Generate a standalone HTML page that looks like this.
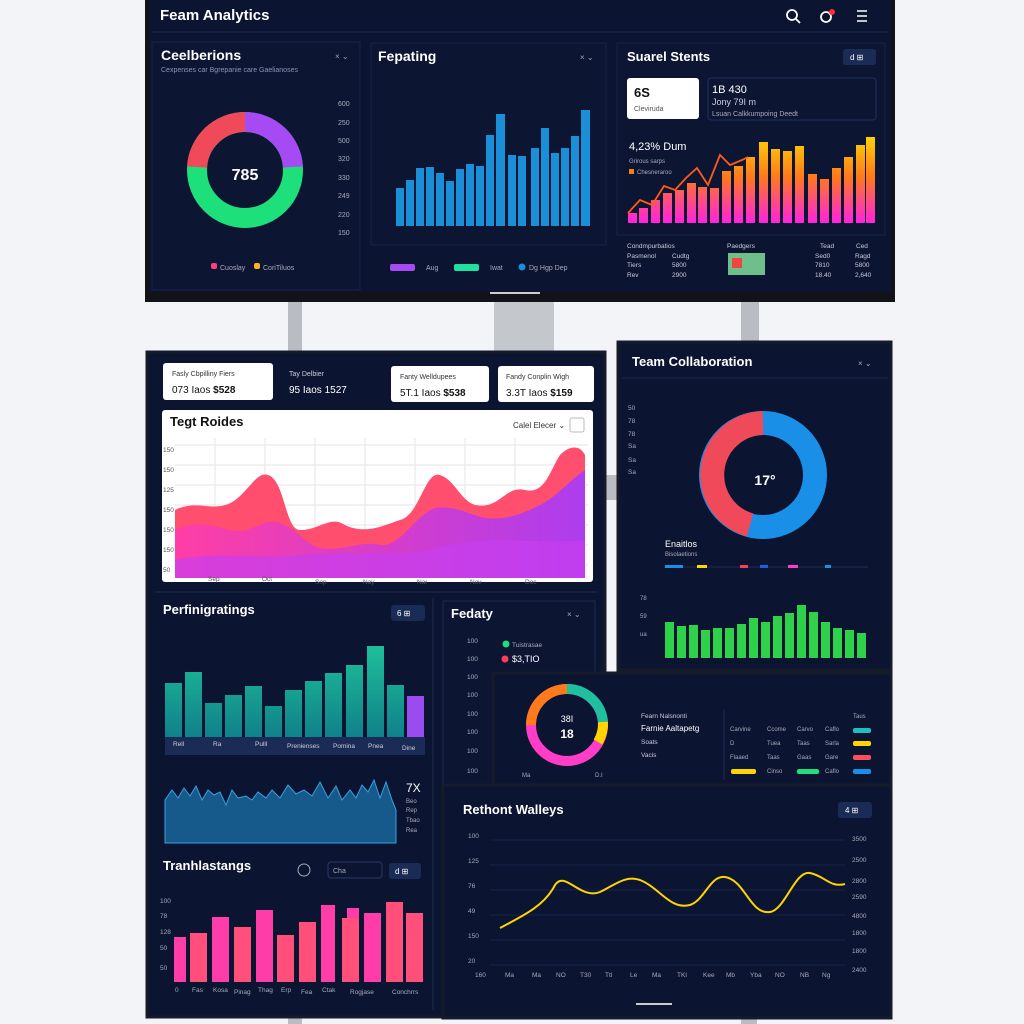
<!DOCTYPE html>
<html><head><meta charset="utf-8"><style>
html,body{margin:0;padding:0;background:#f3f4f7;}
svg{display:block;font-family:"Liberation Sans",sans-serif;}
</style></head><body>
<svg width="1024" height="1024" viewBox="0 0 1024 1024" xmlns="http://www.w3.org/2000/svg">
<defs>
<linearGradient id="og" x1="0" y1="130" x2="0" y2="223" gradientUnits="userSpaceOnUse"><stop offset="0" stop-color="#ffe000"/><stop offset="0.5" stop-color="#ff7a1a"/><stop offset="1" stop-color="#ff22e0"/></linearGradient>
<linearGradient id="tg" x1="0" y1="640" x2="0" y2="740" gradientUnits="userSpaceOnUse"><stop offset="0" stop-color="#1fc39a"/><stop offset="1" stop-color="#0f7f8a"/></linearGradient>
<linearGradient id="pg" x1="0" y1="0" x2="1" y2="0"><stop offset="0" stop-color="#ff3da8"/><stop offset="1" stop-color="#a93cf5"/></linearGradient>
<linearGradient id="rg" x1="0" y1="0" x2="1" y2="0"><stop offset="0" stop-color="#ff5a5a"/><stop offset="1" stop-color="#ff4f8a"/></linearGradient>
</defs>
<rect width="1024" height="1024" fill="#f3f4f7"/>
<!-- poles -->
<rect x="288" y="300" width="14" height="60" fill="#b9bcc2"/>
<rect x="494" y="298" width="60" height="58" fill="#c4c7cc"/>
<rect x="741" y="300" width="18" height="45" fill="#b9bcc2"/>
<rect x="603" y="475" width="18" height="25" fill="#b9bcc2"/>
<rect x="288" y="1012" width="14" height="12" fill="#b9bcc2"/>
<rect x="741" y="1015" width="16" height="9" fill="#b9bcc2"/>

<!-- TOP MONITOR -->
<rect x="145" y="0" width="750" height="302" fill="#111318"/>
<rect x="149" y="0" width="742" height="292" fill="#0b1430"/>
<text x="160" y="20" fill="#fff" font-size="15" font-weight="bold">Feam Analytics</text>
<circle cx="792" cy="15" r="5" fill="none" stroke="#fff" stroke-width="1.8"/><line x1="796" y1="19" x2="800" y2="23" stroke="#fff" stroke-width="1.8"/>
<circle cx="826" cy="17" r="5" fill="none" stroke="#fff" stroke-width="1.8"/><circle cx="832" cy="12" r="3" fill="#ff2a3a"/>
<path d="M857 11h10M857 16h10M857 21h10" stroke="#fff" stroke-width="1.6"/>
<line x1="152" y1="32" x2="888" y2="32" stroke="#1c2a55"/>
<rect x="152" y="42" width="208" height="248" fill="#0c1633" stroke="#17244a"/>
<text x="161" y="60" fill="#fff" font-size="14" font-weight="bold">Ceelberions</text>
<text x="161" y="72" fill="#8a94b5" font-size="7">Cexpenses car Bgrepanie care Gaelianoses</text>
<text x="335" y="59" fill="#9aa" font-size="8">× ⌄</text>
<circle cx="245" cy="170" r="48" fill="none" stroke="#1ee07a" stroke-width="20"/>
<path d="M245 122 A48 48 0 0 1 293 167" fill="none" stroke="#a64bf4" stroke-width="20"/>
<path d="M197 167 A48 48 0 0 1 245 122" fill="none" stroke="#f04a5a" stroke-width="20"/>
<text x="245" y="180" fill="#fff" font-size="16" font-weight="bold" text-anchor="middle">785</text>
<g fill="#aab" font-size="7"><text x="338" y="106">600</text><text x="338" y="125">250</text><text x="338" y="143">500</text><text x="338" y="161">320</text><text x="338" y="180">330</text><text x="338" y="198">249</text><text x="338" y="217">220</text><text x="338" y="235">150</text></g>
<rect x="211" y="263" width="6" height="6" rx="2" fill="#ff3d7f"/><text x="220" y="270" fill="#aab" font-size="7">Cuoslay</text>
<rect x="254" y="263" width="6" height="6" rx="2" fill="#ffb020"/><text x="263" y="270" fill="#aab" font-size="7">CoriTiluos</text>

<rect x="371" y="43" width="235" height="202" fill="#0c1633" stroke="#17244a"/>
<text x="378" y="61" fill="#fff" font-size="14" font-weight="bold">Fepating</text>
<text x="580" y="60" fill="#9aa" font-size="8">× ⌄</text>
<g fill="#1a8fd8">
<rect x="396" y="188" width="8" height="38"/><rect x="406" y="180" width="8" height="46"/><rect x="416" y="168" width="8" height="58"/><rect x="426" y="167" width="8" height="59"/><rect x="436" y="173" width="8" height="53"/><rect x="446" y="181" width="8" height="45"/><rect x="456" y="169" width="8" height="57"/><rect x="466" y="164" width="8" height="62"/><rect x="476" y="166" width="8" height="60"/><rect x="486" y="135" width="8" height="91"/><rect x="496" y="114" width="9" height="112"/><rect x="508" y="155" width="8" height="71"/><rect x="518" y="156" width="8" height="70"/><rect x="531" y="148" width="8" height="78"/><rect x="541" y="128" width="8" height="98"/><rect x="551" y="153" width="8" height="73"/><rect x="561" y="148" width="8" height="78"/><rect x="571" y="136" width="8" height="90"/><rect x="581" y="110" width="9" height="116"/></g>
<rect x="390" y="264" width="25" height="7" rx="2" fill="#a64bf4"/><text x="426" y="270" fill="#aab" font-size="7">Aug</text>
<rect x="454" y="264" width="25" height="7" rx="2" fill="#1ee0a0"/><text x="490" y="270" fill="#aab" font-size="7">Iwat</text>
<circle cx="522" cy="267" r="3.5" fill="#1a8fd8"/><text x="529" y="270" fill="#aab" font-size="7">Dg   Hgp   Dep</text>

<rect x="617" y="43" width="268" height="192" fill="#0c1633" stroke="#17244a"/>
<text x="627" y="61" fill="#fff" font-size="13" font-weight="bold">Suarel Stents</text>
<rect x="843" y="49" width="33" height="16" rx="3" fill="#1a2c55"/><text x="850" y="60" fill="#fff" font-size="8">d  ⊞</text>
<rect x="627" y="78" width="72" height="41" rx="3" fill="#fff"/><text x="634" y="97" font-size="13" font-weight="bold" fill="#111">6S</text><text x="634" y="111" font-size="7" fill="#555">Cleviruda</text>
<rect x="708" y="78" width="168" height="42" rx="3" fill="none" stroke="#1f2e58"/><text x="712" y="93" fill="#fff" font-size="11">1B 430</text><text x="712" y="105" fill="#ccd" font-size="9">Jony 79I m</text><text x="712" y="116" fill="#aab" font-size="7">Lsuan Calkkumpoing Deedt</text>
<text x="629" y="150" fill="#fff" font-size="11">4,23% Dum</text>
<text x="629" y="163" fill="#aab" font-size="6">Grirous sarps</text>
<rect x="629" y="169" width="5" height="5" fill="#ff7a1a"/><text x="637" y="174" fill="#aab" font-size="6">Chesneraroo</text>
<g fill="url(#og)">
<rect x="628" y="213" width="9" height="10"/><rect x="639" y="208" width="9" height="15"/><rect x="651" y="200" width="9" height="23"/><rect x="663" y="193" width="9" height="30"/><rect x="675" y="190" width="9" height="33"/><rect x="687" y="183" width="9" height="40"/><rect x="698" y="187" width="9" height="36"/><rect x="710" y="188" width="9" height="35"/><rect x="722" y="171" width="9" height="52"/><rect x="734" y="166" width="9" height="57"/><rect x="746" y="157" width="9" height="66"/><rect x="759" y="142" width="9" height="81"/><rect x="771" y="149" width="9" height="74"/><rect x="783" y="151" width="9" height="72"/><rect x="795" y="146" width="9" height="77"/><rect x="808" y="174" width="9" height="49"/><rect x="820" y="179" width="9" height="44"/><rect x="832" y="168" width="9" height="55"/><rect x="844" y="157" width="9" height="66"/><rect x="856" y="145" width="9" height="78"/><rect x="866" y="137" width="9" height="86"/></g>
<polyline points="628,213 640,200 652,205 664,186 675,190 686,178 697,168 708,185 720,155 730,165 742,160 748,157" fill="none" stroke="#ff5a1a" stroke-width="1.8"/>
<g fill="#ccd" font-size="6.5"><text x="627" y="248">Condmpurbatios</text><text x="727" y="248">Paedgers</text><text x="820" y="248">Tead</text><text x="856" y="248">Ced</text>
<text x="627" y="258">Pasmenol</text><text x="672" y="258">Cudtg</text><text x="815" y="258">Sed0</text><text x="855" y="258">Ragd</text>
<text x="627" y="267">Tiers</text><text x="672" y="267">5800</text><text x="815" y="267">7810</text><text x="855" y="267">5800</text>
<text x="627" y="277">Rev</text><text x="672" y="277">2900</text><text x="815" y="277">18.40</text><text x="855" y="277">2,640</text></g>
<rect x="728" y="253" width="37" height="22" fill="#6fbf8a"/><rect x="732" y="258" width="10" height="10" fill="#e44"/>
<rect x="490" y="292" width="50" height="2" fill="#ccc"/>

<!-- LEFT BIG PANEL -->
<rect x="147" y="352" width="458" height="665" fill="#0b1430" stroke="#151b28" stroke-width="3"/>
<rect x="163" y="363" width="110" height="37" rx="3" fill="#fff"/><text x="172" y="376" font-size="7" fill="#333">Fasly Cbpilliny Fiers</text><text x="172" y="393" font-size="10" fill="#111">073 Iaos    <tspan font-weight="bold">$528</tspan></text>
<text x="289" y="376" font-size="7" fill="#ccd">Tay Delbier</text><text x="289" y="393" font-size="10" fill="#fff">95 Iaos      1527</text>
<rect x="391" y="366" width="98" height="36" rx="3" fill="#fff"/><text x="400" y="379" font-size="7" fill="#333">Fanty Welldupees</text><text x="400" y="396" font-size="10" fill="#111">5T.1 Iaos  <tspan font-weight="bold">$538</tspan></text>
<rect x="498" y="366" width="96" height="36" rx="3" fill="#fff"/><text x="506" y="379" font-size="7" fill="#333">Fandy Conplin Wigh</text><text x="506" y="396" font-size="10" fill="#111">3.3T Iaos  <tspan font-weight="bold">$159</tspan></text>
<rect x="162" y="410" width="431" height="172" rx="3" fill="#fff"/>
<text x="170" y="426" font-size="13" font-weight="bold" fill="#111">Tegt Roides</text>
<text x="513" y="428" font-size="8" fill="#333">Calel Elecer  ⌄</text><rect x="570" y="418" width="14" height="14" rx="2" fill="none" stroke="#bbb"/>
<g stroke="#e6e6ea"><line x1="175" y1="445" x2="588" y2="445"/><line x1="175" y1="465" x2="588" y2="465"/><line x1="175" y1="485" x2="588" y2="485"/><line x1="175" y1="505" x2="588" y2="505"/><line x1="175" y1="525" x2="588" y2="525"/><line x1="175" y1="545" x2="588" y2="545"/><line x1="175" y1="565" x2="588" y2="565"/>
<line x1="215" y1="438" x2="215" y2="575"/><line x1="265" y1="438" x2="265" y2="575"/><line x1="315" y1="438" x2="315" y2="575"/><line x1="365" y1="438" x2="365" y2="575"/><line x1="415" y1="438" x2="415" y2="575"/><line x1="465" y1="438" x2="465" y2="575"/><line x1="515" y1="438" x2="515" y2="575"/></g>
<g fill="#555" font-size="6.5"><text x="163" y="452">150</text><text x="163" y="472">150</text><text x="163" y="492">125</text><text x="163" y="512">150</text><text x="163" y="532">150</text><text x="163" y="552">150</text><text x="163" y="572">50</text></g>
<path d="M175 510 C195 500 210 510 225 505 C245 500 255 470 268 475 C285 480 285 530 300 530 C320 530 330 515 345 525 C365 535 385 525 400 520 C420 515 425 470 440 475 C455 480 460 500 475 505 C500 510 505 485 525 490 C545 495 550 470 560 455 C570 445 580 445 585 455 L585 578 L175 578Z" fill="#ff4e6e"/>
<path d="M175 530 C195 520 210 525 230 530 C250 535 260 520 275 522 C295 525 305 545 320 548 C345 552 360 540 380 545 C400 548 415 515 435 508 C455 505 470 515 485 518 C505 520 520 515 540 505 C555 498 570 480 585 470 L585 578 L175 578Z" fill="url(#pg)" opacity="0.95"/>
<path d="M175 560 C220 550 260 560 300 555 C360 550 400 560 450 545 C500 535 540 545 585 540 L585 578 L175 578Z" fill="#c73ff0" opacity="0.7"/>
<g fill="#555" font-size="6.5"><text x="208" y="581">Sep</text><text x="262" y="581">Oct</text><text x="315" y="584">Sop</text><text x="363" y="584">Nay</text><text x="417" y="584">Nar</text><text x="470" y="584">Nov</text><text x="525" y="584">Dec</text></g>

<line x1="155" y1="592" x2="597" y2="592" stroke="#1c2a55"/>
<text x="163" y="614" fill="#fff" font-size="13" font-weight="bold">Perfinigratings</text>
<rect x="391" y="605" width="34" height="16" rx="3" fill="#1a2c55"/><text x="397" y="616" fill="#fff" font-size="8">6  ⊞</text>
<line x1="433" y1="598" x2="433" y2="1010" stroke="#1c2a55"/>
<g fill="url(#tg)">
<rect x="165" y="683" width="17" height="54"/><rect x="185" y="672" width="17" height="65"/><rect x="205" y="703" width="17" height="34"/><rect x="225" y="695" width="17" height="42"/><rect x="245" y="686" width="17" height="51"/><rect x="265" y="706" width="17" height="31"/><rect x="285" y="690" width="17" height="47"/><rect x="305" y="681" width="17" height="56"/><rect x="325" y="673" width="17" height="64"/><rect x="346" y="665" width="17" height="72"/><rect x="367" y="646" width="17" height="91"/><rect x="387" y="685" width="17" height="52"/></g>
<rect x="407" y="696" width="17" height="41" fill="#9a4cf0"/>
<rect x="165" y="737" width="260" height="18" fill="#1a2c55"/>
<g fill="#ccd" font-size="6.5"><text x="173" y="746">Rell</text><text x="213" y="746">Ra</text><text x="255" y="746">Pulll</text><text x="287" y="748">Prenienses</text><text x="333" y="748">Pomina</text><text x="368" y="748">Pnea</text><text x="402" y="750">Dine</text></g>
<path d="M165 800 L172 790 L178 798 L184 788 L190 796 L196 786 L202 800 L208 790 L214 795 L220 792 L226 805 L232 790 L238 798 L246 796 L252 800 L258 792 L266 798 L272 790 L280 798 L288 785 L296 794 L304 790 L312 796 L320 782 L328 798 L336 786 L342 800 L350 790 L356 798 L362 785 L368 792 L374 780 L380 798 L386 782 L392 800 L396 810 L396 843 L165 843Z" fill="#155a8a" stroke="#3aa0e0" stroke-width="1"/>
<text x="406" y="792" fill="#fff" font-size="12">7X</text>
<g fill="#aab" font-size="6"><text x="406" y="803">Beo</text><text x="406" y="812">Rep</text><text x="406" y="822">Tbao</text><text x="406" y="832">Rea</text></g>

<text x="163" y="870" fill="#fff" font-size="13" font-weight="bold">Tranhlastangs</text>
<circle cx="304" cy="870" r="6" fill="none" stroke="#aab"/><rect x="328" y="862" width="54" height="16" rx="3" fill="none" stroke="#2a3a66"/><text x="333" y="873" fill="#aab" font-size="7">Cha</text>
<rect x="389" y="863" width="32" height="16" rx="3" fill="#1a2c55"/><text x="395" y="874" fill="#fff" font-size="8">d  ⊞</text>
<g fill="#aab" font-size="6.5"><text x="160" y="903">100</text><text x="160" y="918">78</text><text x="160" y="934">128</text><text x="160" y="950">50</text><text x="160" y="970">50</text></g>
<g>
<rect x="174" y="937" width="12" height="45" fill="#ff3da8"/><rect x="190" y="933" width="17" height="49" fill="#ff4f7a"/><rect x="212" y="917" width="17" height="65" fill="#ff3da8"/><rect x="234" y="927" width="17" height="55" fill="#ff4f7a"/><rect x="256" y="910" width="17" height="72" fill="#ff3da8"/><rect x="277" y="935" width="17" height="47" fill="#ff4f7a"/><rect x="299" y="922" width="17" height="60" fill="#ff4f7a"/><rect x="321" y="905" width="14" height="77" fill="#ff3da8"/><rect x="342" y="918" width="17" height="64" fill="#ff4f7a"/><rect x="347" y="908" width="12" height="10" fill="#ff3da8"/><rect x="364" y="913" width="17" height="69" fill="#ff3da8"/><rect x="386" y="902" width="17" height="80" fill="#ff4f7a"/><rect x="406" y="913" width="17" height="69" fill="#ff4f7a"/></g>
<g fill="#aab" font-size="6.5"><text x="175" y="992">0</text><text x="192" y="992">Fas</text><text x="213" y="992">Kosa</text><text x="234" y="994">Pinag</text><text x="258" y="992">Thag</text><text x="281" y="992">Erp</text><text x="301" y="994">Fea</text><text x="322" y="992">Ctak</text><text x="350" y="994">Rogjase</text><text x="392" y="994">Conchrrs</text></g>

<rect x="443" y="601" width="152" height="184" fill="#0c1633" stroke="#1c2a55"/>
<text x="451" y="618" fill="#fff" font-size="13" font-weight="bold">Fedaty</text><text x="567" y="617" fill="#aab" font-size="8">× ⌄</text>
<circle cx="506" cy="644" r="3.5" fill="#1ee07a"/><text x="512" y="647" fill="#aab" font-size="6.5">Tuistrasae</text>
<circle cx="505" cy="659" r="3.5" fill="#ff3d5a"/><text x="512" y="662" fill="#fff" font-size="9">$3,TIO</text>
<g fill="#aab" font-size="6.5"><text x="467" y="643">100</text><text x="467" y="661">100</text><text x="467" y="679">100</text><text x="467" y="697">100</text><text x="467" y="716">100</text><text x="467" y="734">100</text><text x="467" y="753">100</text><text x="467" y="773">100</text></g>

<!-- RIGHT PANEL -->
<rect x="618" y="342" width="273" height="328" fill="#0b1430" stroke="#151b28" stroke-width="3"/>
<text x="632" y="366" fill="#fff" font-size="13" font-weight="bold">Team Collaboration</text><text x="858" y="366" fill="#aab" font-size="8">× ⌄</text>
<line x1="622" y1="378" x2="888" y2="378" stroke="#1c2a55"/>
<g fill="#aab" font-size="6.5"><text x="628" y="410">50</text><text x="628" y="423">78</text><text x="628" y="436">78</text><text x="628" y="448">Sa</text><text x="628" y="462">Sa</text><text x="628" y="474">Sa</text></g>
<circle cx="763" cy="475" r="52" fill="none" stroke="#1a8fe8" stroke-width="24"/>
<path d="M763 423 A52 52 0 0 0 750 525" fill="none" stroke="#f04a5a" stroke-width="24"/>
<text x="765" y="485" fill="#fff" font-size="14" font-weight="bold" text-anchor="middle">17°</text>
<text x="665" y="547" fill="#fff" font-size="9">Enaitlos</text><text x="665" y="556" fill="#aab" font-size="6">Bisolaetions</text>
<line x1="664" y1="567" x2="868" y2="567" stroke="#1c2a55"/>
<g><rect x="665" y="565" width="18" height="3" fill="#1a8fe8"/><rect x="697" y="565" width="10" height="3" fill="#ffd400"/><rect x="740" y="565" width="8" height="3" fill="#ff3d5a"/><rect x="760" y="565" width="8" height="3" fill="#1a5fe8"/><rect x="788" y="565" width="10" height="3" fill="#ff3dc8"/><rect x="825" y="565" width="6" height="3" fill="#1a8fe8"/></g>
<g fill="#2fd04a">
<rect x="665" y="622" width="9" height="36"/><rect x="677" y="626" width="9" height="32"/><rect x="689" y="625" width="9" height="33"/><rect x="701" y="630" width="9" height="28"/><rect x="713" y="628" width="9" height="30"/><rect x="725" y="628" width="9" height="30"/><rect x="737" y="624" width="9" height="34"/><rect x="749" y="618" width="9" height="40"/><rect x="761" y="622" width="9" height="36"/><rect x="773" y="616" width="9" height="42"/><rect x="785" y="613" width="9" height="45"/><rect x="797" y="605" width="9" height="53"/><rect x="809" y="612" width="9" height="46"/><rect x="821" y="622" width="9" height="36"/><rect x="833" y="628" width="9" height="30"/><rect x="845" y="630" width="9" height="28"/><rect x="857" y="633" width="9" height="25"/></g>
<g fill="#aab" font-size="6"><text x="640" y="600">78</text><text x="640" y="618">59</text><text x="640" y="636">ua</text></g>

<!-- BOTTOM RIGHT PANEL -->
<rect x="493" y="673" width="398" height="112" fill="#0b1430" stroke="#151b28" stroke-width="3"/>
<rect x="443" y="785" width="448" height="233" fill="#0b1430" stroke="#151b28" stroke-width="3"/>
<circle cx="567" cy="725" r="36" fill="none" stroke="#ff3dc8" stroke-width="10"/>
<path d="M567 689 A36 36 0 0 1 603 722" fill="none" stroke="#1ec0a0" stroke-width="10"/>
<path d="M531 725 A36 36 0 0 1 567 689" fill="none" stroke="#ff7a1a" stroke-width="10"/>
<path d="M603 722 A36 36 0 0 1 598 742" fill="none" stroke="#ffd400" stroke-width="10"/>
<text x="567" y="722" fill="#fff" font-size="9" text-anchor="middle">38I</text><text x="567" y="738" fill="#fff" font-size="12" font-weight="bold" text-anchor="middle">18</text>
<text x="522" y="777" fill="#aab" font-size="6">Ma</text><text x="595" y="777" fill="#aab" font-size="6">D.I</text>
<g fill="#ccd" font-size="6.5"><text x="641" y="718">Fearn Nalsnonti</text><text x="641" y="731" fill="#fff" font-size="8">Farnie Aaltapetg</text><text x="641" y="744">Soats</text><text x="641" y="757">Vacis</text></g>
<line x1="724" y1="710" x2="724" y2="780" stroke="#1c2a55"/>
<g fill="#aab" font-size="6"><text x="730" y="731">Carvine</text><text x="767" y="731">Ccome</text><text x="797" y="731">Carvo</text><text x="825" y="731">Caflo</text><text x="853" y="718">Taus</text>
<text x="730" y="745">D</text><text x="767" y="745">Tuea</text><text x="797" y="745">Taas</text><text x="825" y="745">Sarla</text>
<text x="730" y="759">Flaaed</text><text x="767" y="759">Taas</text><text x="797" y="759">Gaas</text><text x="825" y="759">Gare</text>
<text x="767" y="773">Cinso</text><text x="825" y="773">Caflo</text></g>
<rect x="853" y="728" width="18" height="5" rx="2" fill="#1ec0c0"/><rect x="853" y="741" width="18" height="5" rx="2" fill="#ffd400"/><rect x="853" y="755" width="18" height="5" rx="2" fill="#ff4f5a"/><rect x="853" y="769" width="18" height="5" rx="2" fill="#1a8fe8"/>
<rect x="731" y="769" width="25" height="5" rx="2" fill="#ffd400"/><rect x="797" y="769" width="22" height="5" rx="2" fill="#1ee07a"/>
<text x="463" y="814" fill="#fff" font-size="13" font-weight="bold">Rethont Walleys</text>
<rect x="838" y="802" width="34" height="16" rx="3" fill="#1a2c55"/><text x="845" y="813" fill="#fff" font-size="8">4  ⊞</text>
<g stroke="#16224a"><line x1="490" y1="840" x2="845" y2="840"/><line x1="490" y1="865" x2="845" y2="865"/><line x1="490" y1="890" x2="845" y2="890"/><line x1="490" y1="915" x2="845" y2="915"/><line x1="490" y1="940" x2="845" y2="940"/><line x1="490" y1="965" x2="845" y2="965"/></g>
<g fill="#aab" font-size="6.5"><text x="468" y="838">100</text><text x="468" y="863">125</text><text x="468" y="888">76</text><text x="468" y="913">49</text><text x="468" y="938">150</text><text x="468" y="963">20</text>
<text x="852" y="841">3500</text><text x="852" y="862">2500</text><text x="852" y="883">2800</text><text x="852" y="899">2590</text><text x="852" y="918">4800</text><text x="852" y="935">1800</text><text x="852" y="953">1800</text><text x="852" y="972">2400</text>
<text x="475" y="977">160</text><text x="505" y="977">Ma</text><text x="532" y="977">Ma</text><text x="556" y="977">NO</text><text x="580" y="977">T30</text><text x="605" y="977">Ttl</text><text x="630" y="977">Le</text><text x="652" y="977">Ma</text><text x="677" y="977">TKI</text><text x="703" y="977">Kee</text><text x="726" y="977">Mb</text><text x="750" y="977">Yba</text><text x="775" y="977">NO</text><text x="800" y="977">NB</text><text x="822" y="977">Ng</text></g>
<path d="M500 928 C525 915 545 905 555 885 C565 870 580 900 600 892 C615 885 625 875 640 880 C660 888 670 910 690 905 C705 900 710 875 725 877 C745 880 750 915 770 912 C785 910 795 870 810 873 C825 876 830 888 845 884" fill="none" stroke="#ffd400" stroke-width="2"/>
<rect x="636" y="1003" width="36" height="2" fill="#ccc"/>
</svg>
</body></html>
